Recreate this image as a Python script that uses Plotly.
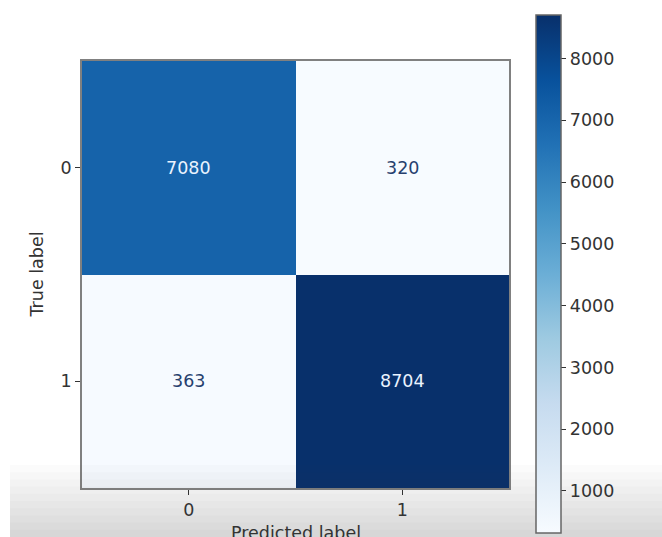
import plotly.graph_objects as go
import plotly.express as px

# Confusion matrix counts (rows: true label, columns: predicted label)
class_labels = ["0", "1"]
counts = [
    [7080, 320],
    [363, 8704],
]
colorbar_ticks = [1000, 2000, 3000, 4000, 5000, 6000, 7000, 8000]
x_title = "Predicted label"
y_title = "True label"

W, H = 662, 537
FONT = "DejaVu Sans"
FS = 17.5
TXT = "#333333"
zmin = min(min(r) for r in counts)
zmax = max(max(r) for r in counts)

X_DOMAIN = [82 / W, 509 / W]
Y_DOMAIN = [1 - 488 / H, 1 - 61 / H]

fig = go.Figure()
fig.add_trace(go.Heatmap(
    z=counts,
    x=[0, 1],
    y=[0, 1],
    zmin=zmin,
    zmax=zmax,
    colorscale=px.colors.sequential.Blues,
    xgap=0, ygap=0,
    hoverinfo="skip",
    colorbar=dict(
        thickness=25,
        thicknessmode="pixels",
        len=(533 - 15) / H,
        lenmode="fraction",
        x=536 / W,
        xanchor="left",
        xpad=0,
        ypad=0,
        y=1 - (15 + 533) / 2 / H,
        yanchor="middle",
        outlinewidth=1.5,
        outlinecolor="#666666",
        tickvals=colorbar_ticks,
        ticks="outside",
        ticklen=5,
        tickwidth=1.2,
        tickcolor=TXT,
        tickfont=dict(family=FONT, size=FS, color=TXT),
    ),
))

# Cell counts, white on dark cells and dark blue on light cells
threshold = (zmin + zmax) / 2
for i, row in enumerate(counts):
    for j, v in enumerate(row):
        fig.add_annotation(
            x=j, y=i, text=str(v), showarrow=False,
            font=dict(family=FONT, size=FS,
                      color="#eaf3ff" if v > threshold else "#27406e"),
        )

# Axis titles
fig.add_annotation(
    x=sum(X_DOMAIN) / 2, y=1 - 533 / H, xref="paper", yref="paper",
    text=x_title, showarrow=False, xanchor="center", yanchor="middle",
    font=dict(family=FONT, size=FS, color=TXT),
)
fig.add_annotation(
    x=36 / W, y=sum(Y_DOMAIN) / 2, xref="paper", yref="paper",
    text=y_title, showarrow=False, textangle=-90,
    xanchor="center", yanchor="middle",
    font=dict(family=FONT, size=FS, color=TXT),
)

axis_common = dict(
    showline=True, mirror=True, linecolor="#808080", linewidth=1.6,
    ticks="outside", ticklen=5, tickwidth=1.2, tickcolor=TXT,
    tickfont=dict(family=FONT, size=FS, color=TXT),
    showgrid=False, zeroline=False, automargin=False,
    tickvals=[0, 1], ticktext=class_labels,
)

fig.update_layout(
    width=W, height=H,
    margin=dict(l=0, r=0, t=0, b=0),
    paper_bgcolor="white",
    plot_bgcolor="white",
    xaxis=dict(**axis_common, domain=X_DOMAIN, range=[-0.5, 1.5]),
    yaxis=dict(**axis_common, domain=Y_DOMAIN, range=[1.5, -0.5]),
)

# Soft grey shading along the bottom edge
band_top = 465
steps = 10
for k in range(steps):
    y0 = band_top + (H - band_top) * k / steps
    fig.add_shape(
        type="rect", xref="paper", yref="paper", layer="above",
        x0=10 / W, x1=1, y0=0, y1=1 - y0 / H,
        line=dict(width=0),
        fillcolor="rgba(90,90,90,0.022)",
    )

fig.write_html("out.html")
